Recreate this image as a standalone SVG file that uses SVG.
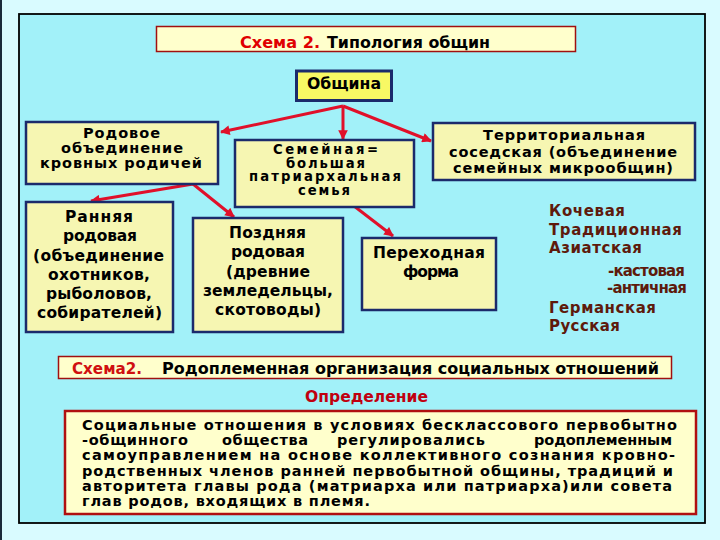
<svg xmlns="http://www.w3.org/2000/svg" width="720" height="540" viewBox="0 0 720 540">
<style>
.box{fill:#f6f6b2;stroke:#1b2a6b;stroke-width:2.5}
.t{font-family:"DejaVu Sans",Verdana,sans-serif;font-weight:bold;fill:#000}
.c{font-family:"DejaVu Sans Condensed","DejaVu Sans",sans-serif;font-weight:bold}
.arr{stroke:#e0102a;stroke-width:3;fill:none;marker-end:url(#ah)}
.lst{font-family:"DejaVu Sans",Verdana,sans-serif;font-weight:bold;fill:#5e1a0c;font-size:15px}
</style>
<defs>
<marker id="ah" viewBox="0 0 10 10" refX="9" refY="5" markerWidth="3.6" markerHeight="3.2" orient="auto" markerUnits="strokeWidth">
<path d="M0,0 L10,5 L0,10 z" fill="#e0102a"/>
</marker>
</defs>
<rect x="0" y="0" width="720" height="540" fill="#d9fbff"/>
<line x1="1" y1="0" x2="1" y2="540" stroke="#1a2a3a" stroke-width="2"/>
<rect x="19" y="14" width="686" height="509" fill="#a2f1f9" stroke="#000" stroke-width="1.8"/>

<g id="title">
<rect x="156.5" y="26.5" width="419" height="25" fill="#ffffcc" stroke="#a01010" stroke-width="1.5"/>
<text class="c" y="48" font-size="16"><tspan x="240" fill="#e00000" textLength="80" lengthAdjust="spacingAndGlyphs">Схема 2.</tspan><tspan x="327" fill="#000" textLength="163" lengthAdjust="spacingAndGlyphs">Типология общин</tspan></text>
</g>

<g id="connectors">
<line class="arr" x1="343" y1="106" x2="221" y2="132"/>
<line class="arr" x1="343" y1="106" x2="343" y2="139"/>
<line class="arr" x1="343" y1="106" x2="431" y2="141"/>
<line class="arr" x1="193" y1="184" x2="91" y2="201"/>
<line class="arr" x1="193" y1="184" x2="234" y2="217"/>
<line class="arr" x1="354" y1="206" x2="393" y2="236"/>
</g>

<g id="obshchina">
<rect x="296.5" y="71" width="95" height="29.5" fill="#f8f864" stroke="#1b2a6b" stroke-width="3"/>
<text class="c" x="307" y="89" font-size="16" textLength="74" lengthAdjust="spacingAndGlyphs">Община</text>
</g>

<g id="rodovoe">
<rect class="box" x="26" y="122" width="192" height="62"/>
<text class="t" font-size="14.5"><tspan x="83" y="138" textLength="77" lengthAdjust="spacing">Родовое</tspan><tspan x="61" y="153" textLength="122" lengthAdjust="spacing">объединение</tspan><tspan x="40" y="168" textLength="162" lengthAdjust="spacing">кровных родичей</tspan></text>
</g>

<g id="semeinaya">
<rect class="box" x="235" y="140" width="179" height="67"/>
<text class="t" font-size="13.2"><tspan x="273" y="154" textLength="105" lengthAdjust="spacing">Семейная=</tspan><tspan x="286" y="167.5" textLength="79" lengthAdjust="spacing">большая</tspan><tspan x="249" y="181" textLength="152" lengthAdjust="spacing">патриархальная</tspan><tspan x="298" y="194.5" textLength="52" lengthAdjust="spacing">семья</tspan></text>
</g>

<g id="territorialnaya">
<rect class="box" x="433" y="123" width="262" height="57"/>
<text class="t" font-size="14.5"><tspan x="483" y="140" textLength="162" lengthAdjust="spacing">Территориальная</tspan><tspan x="449" y="157" textLength="228" lengthAdjust="spacing">соседская (объединение</tspan><tspan x="453" y="173" textLength="220" lengthAdjust="spacing">семейных микрообщин)</tspan></text>
</g>

<g id="rannyaya">
<rect class="box" x="26" y="202" width="147" height="130"/>
<text class="t" font-size="15.5"><tspan x="65" y="222" textLength="68" lengthAdjust="spacing">Ранняя</tspan><tspan x="63" y="241" textLength="74" lengthAdjust="spacing">родовая</tspan><tspan x="33" y="260.5" textLength="131" lengthAdjust="spacing">(объединение</tspan><tspan x="48" y="279.5" textLength="102" lengthAdjust="spacing">охотников,</tspan><tspan x="46" y="299" textLength="106" lengthAdjust="spacing">рыболовов,</tspan><tspan x="37" y="318" textLength="125" lengthAdjust="spacing">собирателей)</tspan></text>
</g>

<g id="pozdnyaya">
<rect class="box" x="193" y="218" width="150" height="114"/>
<text class="t" font-size="15.5"><tspan x="229" y="238" textLength="77" lengthAdjust="spacing">Поздняя</tspan><tspan x="231" y="257" textLength="74" lengthAdjust="spacing">родовая</tspan><tspan x="226" y="277" textLength="84" lengthAdjust="spacing">(древние</tspan><tspan x="203" y="296" textLength="130" lengthAdjust="spacing">земледельцы,</tspan><tspan x="215" y="315" textLength="106" lengthAdjust="spacing">скотоводы)</tspan></text>
</g>

<g id="perehodnaya">
<rect class="box" x="362" y="238" width="134" height="72"/>
<text class="t" font-size="15.5"><tspan x="373" y="258" textLength="112" lengthAdjust="spacing">Переходная</tspan><tspan x="403" y="277" textLength="56" lengthAdjust="spacing">форма</tspan></text>
</g>

<g id="list">
<text class="lst" x="549" y="216" textLength="76" lengthAdjust="spacing">Кочевая</text>
<text class="lst" x="549" y="235" textLength="133" lengthAdjust="spacing">Традиционная</text>
<text class="lst" x="549" y="253" textLength="93" lengthAdjust="spacing">Азиатская</text>
<text class="lst" x="608" y="276" font-size="12.5" fill="#2a1208" textLength="77" lengthAdjust="spacing">-кастовая</text>
<text class="lst" x="607" y="293" font-size="12.5" fill="#2a1208" textLength="80" lengthAdjust="spacing">-античная</text>
<text class="lst" x="549" y="313" textLength="107" lengthAdjust="spacing">Германская</text>
<text class="lst" x="549" y="331" textLength="71" lengthAdjust="spacing">Русская</text>
</g>

<g id="schema2">
<rect x="58.5" y="356.5" width="613" height="22" fill="#ffffcc" stroke="#a01010" stroke-width="1.5"/>
<text class="c" y="374" font-size="15"><tspan x="72" fill="#d01010" textLength="70" lengthAdjust="spacingAndGlyphs">Схема2.</tspan><tspan x="162" fill="#000" textLength="497" lengthAdjust="spacingAndGlyphs">Родоплеменная организация социальных отношений</tspan></text>
</g>

<g id="opredelenie">
<text class="c" x="305" y="402" font-size="16" fill="#c00010" textLength="123" lengthAdjust="spacingAndGlyphs">Определение</text>
</g>

<g id="definition">
<rect x="65" y="411" width="631" height="103" fill="#ffffcc" stroke="#b01010" stroke-width="2.5"/>
<text class="t" font-size="14.5">
<tspan x="82" y="430" textLength="595" lengthAdjust="spacing">Социальные отношения в условиях бесклассового первобытно</tspan>
<tspan x="82" y="445" textLength="106" lengthAdjust="spacing">-общинного</tspan><tspan x="222" y="445" textLength="86" lengthAdjust="spacing">общества</tspan><tspan x="337" y="445" textLength="148" lengthAdjust="spacing">регулировались</tspan><tspan x="534" y="445" textLength="138" lengthAdjust="spacing">родоплеменным</tspan>
<tspan x="82" y="460" textLength="593" lengthAdjust="spacing">самоуправлением на основе коллективного сознания кровно-</tspan>
<tspan x="82" y="476" textLength="591" lengthAdjust="spacing">родственных членов ранней первобытной общины, традиций и</tspan>
<tspan x="82" y="491" textLength="590" lengthAdjust="spacing">авторитета главы рода (матриарха или патриарха)или совета</tspan>
<tspan x="82" y="506" textLength="288" lengthAdjust="spacing">глав родов, входящих в племя.</tspan>
</text>
</g>
</svg>
